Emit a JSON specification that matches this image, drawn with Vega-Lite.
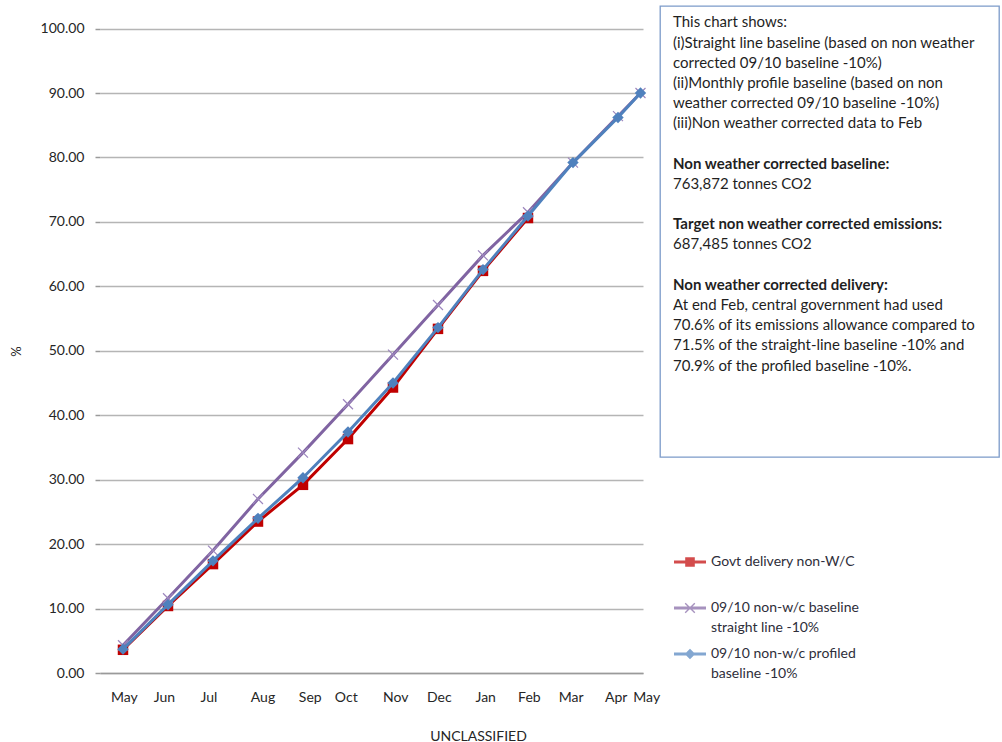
{
  "$schema": "https://vega.github.io/schema/vega-lite/v6.json",
  "background": "white",
  "padding": {"left": 10, "top": 5, "right": 0, "bottom": 0},
  "bounds": "flush",
  "spacing": 17,
  "config": {"font": "Lato", "view": {"stroke": null}, "style": {"guide-label": {"lineHeight": 20}}},
  "datasets": {
    "series": [
      {"t": 0, "month": "May", "series": "Govt delivery non-W/C", "value": 3.6},
      {"t": 1, "month": "Jun", "series": "Govt delivery non-W/C", "value": 10.4},
      {"t": 2, "month": "Jul", "series": "Govt delivery non-W/C", "value": 16.9},
      {"t": 3, "month": "Aug", "series": "Govt delivery non-W/C", "value": 23.5},
      {"t": 4, "month": "Sep", "series": "Govt delivery non-W/C", "value": 29.2},
      {"t": 5, "month": "Oct", "series": "Govt delivery non-W/C", "value": 36.3},
      {"t": 6, "month": "Nov", "series": "Govt delivery non-W/C", "value": 44.3},
      {"t": 7, "month": "Dec", "series": "Govt delivery non-W/C", "value": 53.4},
      {"t": 8, "month": "Jan", "series": "Govt delivery non-W/C", "value": 62.4},
      {"t": 9, "month": "Feb", "series": "Govt delivery non-W/C", "value": 70.6},
      {"t": 0, "month": "May", "series": "09/10 non-w/c baseline straight line -10%", "value": 4.3},
      {"t": 1, "month": "Jun", "series": "09/10 non-w/c baseline straight line -10%", "value": 11.6},
      {"t": 2, "month": "Jul", "series": "09/10 non-w/c baseline straight line -10%", "value": 19.0},
      {"t": 3, "month": "Aug", "series": "09/10 non-w/c baseline straight line -10%", "value": 27.0},
      {"t": 4, "month": "Sep", "series": "09/10 non-w/c baseline straight line -10%", "value": 34.2},
      {"t": 5, "month": "Oct", "series": "09/10 non-w/c baseline straight line -10%", "value": 41.7},
      {"t": 6, "month": "Nov", "series": "09/10 non-w/c baseline straight line -10%", "value": 49.4},
      {"t": 7, "month": "Dec", "series": "09/10 non-w/c baseline straight line -10%", "value": 57.1},
      {"t": 8, "month": "Jan", "series": "09/10 non-w/c baseline straight line -10%", "value": 64.8},
      {"t": 9, "month": "Feb", "series": "09/10 non-w/c baseline straight line -10%", "value": 71.5},
      {"t": 10, "month": "Mar", "series": "09/10 non-w/c baseline straight line -10%", "value": 79.2},
      {"t": 11, "month": "Apr", "series": "09/10 non-w/c baseline straight line -10%", "value": 86.4},
      {"t": 11.5, "month": "May", "series": "09/10 non-w/c baseline straight line -10%", "value": 90.0},
      {"t": 0, "month": "May", "series": "09/10 non-w/c profiled baseline -10%", "value": 3.7},
      {"t": 1, "month": "Jun", "series": "09/10 non-w/c profiled baseline -10%", "value": 10.6},
      {"t": 2, "month": "Jul", "series": "09/10 non-w/c profiled baseline -10%", "value": 17.4},
      {"t": 3, "month": "Aug", "series": "09/10 non-w/c profiled baseline -10%", "value": 24.0},
      {"t": 4, "month": "Sep", "series": "09/10 non-w/c profiled baseline -10%", "value": 30.3},
      {"t": 5, "month": "Oct", "series": "09/10 non-w/c profiled baseline -10%", "value": 37.4},
      {"t": 6, "month": "Nov", "series": "09/10 non-w/c profiled baseline -10%", "value": 45.0},
      {"t": 7, "month": "Dec", "series": "09/10 non-w/c profiled baseline -10%", "value": 53.6},
      {"t": 8, "month": "Jan", "series": "09/10 non-w/c profiled baseline -10%", "value": 62.6},
      {"t": 9, "month": "Feb", "series": "09/10 non-w/c profiled baseline -10%", "value": 70.9},
      {"t": 10, "month": "Mar", "series": "09/10 non-w/c profiled baseline -10%", "value": 79.2},
      {"t": 11, "month": "Apr", "series": "09/10 non-w/c profiled baseline -10%", "value": 86.2},
      {"t": 11.5, "month": "May", "series": "09/10 non-w/c profiled baseline -10%", "value": 90.0}
    ],
    "notes": [
      {"row": 0, "bold": false, "text": "This chart shows:"},
      {"row": 1, "bold": false, "text": "(i)Straight line baseline (based on non weather"},
      {"row": 2, "bold": false, "text": "corrected 09/10 baseline -10%)"},
      {"row": 3, "bold": false, "text": "(ii)Monthly profile baseline (based on non"},
      {"row": 4, "bold": false, "text": "weather corrected 09/10 baseline -10%)"},
      {"row": 5, "bold": false, "text": "(iii)Non weather corrected data to Feb"},
      {"row": 7, "bold": true, "text": "Non weather corrected baseline:"},
      {"row": 8, "bold": false, "text": "763,872 tonnes CO2"},
      {"row": 10, "bold": true, "text": "Target non weather corrected emissions:"},
      {"row": 11, "bold": false, "text": "687,485 tonnes CO2"},
      {"row": 13, "bold": true, "text": "Non weather corrected delivery:"},
      {"row": 14, "bold": false, "text": "At end Feb, central government had used"},
      {"row": 15, "bold": false, "text": "70.6% of its emissions allowance compared to"},
      {"row": 16, "bold": false, "text": "71.5% of the straight-line  baseline -10% and"},
      {"row": 17, "bold": false, "text": "70.9%  of the profiled baseline -10%."}
    ]
  },
  "hconcat": [
    {
      "width": 543,
      "height": 667,
      "data": {"name": "series"},
      "encoding": {
        "x": {
          "field": "t",
          "type": "quantitative",
          "scale": {"domain": [-0.511, 11.556], "nice": false, "zero": false},
          "axis": {
            "values": [0.02, 0.91, 1.9, 3.1, 4.15, 4.95, 6.05, 7.02, 8.05, 9.02, 9.95, 10.95, 11.33],
            "labelExpr": "['May','Jun','Jul','Aug','Sep','Oct','Nov','Dec','Jan','Feb','Mar','Apr','May'][datum.value > 11.2 ? 12 : floor(datum.value + 0.2)]",
            "labelAlign": {"condition": {"test": "datum.value > 11.2", "value": "left"}, "value": "center"},
            "labelFlush": false,
            "labelOverlap": false,
            "labelFont": "Lato",
            "labelFontSize": 14,
            "labelColor": "#262626",
            "labelPadding": 17,
            "ticks": false,
            "grid": false,
            "domainColor": "#9a9a9a",
            "domainWidth": 1.5,
            "title": "UNCLASSIFIED",
            "titleFont": "Lato",
            "titleFontSize": 14,
            "titleFontWeight": "normal",
            "titleColor": "#262626",
            "titleX": 378,
            "titleY": 63,
            "titleBaseline": "middle"
          }
        },
        "y": {
          "field": "value",
          "type": "quantitative",
          "scale": {"domain": [0, 103.5], "nice": false, "zero": true},
          "axis": {
            "values": [0, 10, 20, 30, 40, 50, 60, 70, 80, 90, 100],
            "format": ".2f",
            "domain": false,
            "grid": true,
            "gridColor": "#b5b5b5",
            "gridWidth": 1.5,
            "tickColor": "#9a9a9a",
            "tickWidth": 1.5,
            "tickSize": 5,
            "labelPadding": 11,
            "labelFont": "Lato",
            "labelFontSize": 14,
            "labelColor": "#262626",
            "title": "%",
            "titleFont": "Lato",
            "titleFontSize": 13,
            "titleFontWeight": "normal",
            "titleColor": "#262626",
            "titleX": -84,
            "titleY": 345,
            "titleAngle": -90,
            "titleBaseline": "middle",
            "titleAlign": "center"
          }
        }
      },
      "layer": [
        {
          "transform": [{"filter": "datum.t < -5"}],
          "mark": {"type": "point", "filled": true, "size": 1024},
          "encoding": {
            "color": {
              "field": "series",
              "type": "nominal",
              "scale": {
                "domain": ["Govt delivery non-W/C", "09/10 non-w/c baseline straight line -10%", "09/10 non-w/c profiled baseline -10%"],
                "range": ["#c00000", "#8064a2", "#4f81bd"]
              },
              "legend": {
                "orient": "none", "legendX": 574, "legendY": 540, "title": null,
                "symbolSize": 1024, "symbolStrokeWidth": 0,
                "labelFont": "Lato", "labelFontSize": 14, "labelColor": "#2e2e3a",
                "labelOffset": 5, "rowPadding": 3, "labelLimit": 300,
                "labelExpr": "datum.label == '09/10 non-w/c baseline straight line -10%' ? ['09/10 non-w/c baseline', 'straight line -10%'] : datum.label == '09/10 non-w/c profiled baseline -10%' ? ['09/10 non-w/c profiled', 'baseline -10%'] : [datum.label, '']"
              }
            },
            "shape": {
              "field": "series",
              "type": "nominal",
              "scale": {
                "domain": ["Govt delivery non-W/C", "09/10 non-w/c baseline straight line -10%", "09/10 non-w/c profiled baseline -10%"],
                "range": [
                  "M-1,-0.094H1V0.094H-1Z M-0.3,-0.3H0.3V0.3H-0.3Z",
                  "M-1,-0.094H1V0.094H-1Z M-0.33,-0.27L-0.27,-0.33L0.33,0.27L0.27,0.33Z M0.27,-0.33L0.33,-0.27L-0.27,0.33L-0.33,0.27Z",
                  "M-1,-0.094H1V0.094H-1Z M0,-0.33L0.33,0L0,0.33L-0.33,0Z"
                ]
              },
              "legend": {
                "orient": "none", "legendX": 574, "legendY": 540, "title": null,
                "symbolSize": 1024, "symbolStrokeWidth": 0,
                "labelFont": "Lato", "labelFontSize": 14, "labelColor": "#2e2e3a",
                "labelOffset": 5, "rowPadding": 3, "labelLimit": 300,
                "labelExpr": "datum.label == '09/10 non-w/c baseline straight line -10%' ? ['09/10 non-w/c baseline', 'straight line -10%'] : datum.label == '09/10 non-w/c profiled baseline -10%' ? ['09/10 non-w/c profiled', 'baseline -10%'] : [datum.label, '']"
              }
            }
          }
        },
        {
          "data": {"values": [{}]},
          "mark": {"type": "rule", "color": "#9a9a9a", "strokeWidth": 1.5},
          "encoding": {
            "x": {"datum": -0.511, "type": "quantitative"},
            "y": {"datum": 0, "type": "quantitative"},
            "y2": {"datum": 100}
          }
        },
        {
          "transform": [{"filter": "datum.series == 'Govt delivery non-W/C'"}],
          "mark": {"type": "line", "color": "#c00000", "strokeWidth": 3}
        },
        {
          "transform": [{"filter": "datum.series == 'Govt delivery non-W/C'"}],
          "mark": {"type": "point", "shape": "square", "filled": true, "size": 110, "color": "#c00000", "opacity": 1}
        },
        {
          "transform": [{"filter": "datum.series == '09/10 non-w/c baseline straight line -10%'"}],
          "mark": {"type": "line", "color": "#8064a2", "strokeWidth": 3}
        },
        {
          "transform": [{"filter": "datum.series == '09/10 non-w/c baseline straight line -10%'"}],
          "mark": {"type": "point", "shape": "M-1,-1L1,1M1,-1L-1,1", "filled": false, "size": 100, "color": "#9c86bd", "strokeWidth": 1.2, "opacity": 1}
        },
        {
          "transform": [{"filter": "datum.series == '09/10 non-w/c profiled baseline -10%'"}],
          "mark": {"type": "line", "color": "#4f81bd", "strokeWidth": 3}
        },
        {
          "transform": [{"filter": "datum.series == '09/10 non-w/c profiled baseline -10%'"}],
          "mark": {"type": "point", "shape": "diamond", "filled": true, "size": 130, "color": "#4f81bd", "opacity": 1}
        }
      ]
    },
    {
      "width": 339,
      "height": 451,
      "view": {"stroke": "#7c9bc9", "strokeWidth": 1.3},
      "data": {"name": "notes"},
      "encoding": {
        "x": {"datum": 0, "type": "quantitative", "scale": {"domain": [0, 1]}, "axis": null},
        "y": {"field": "row", "type": "quantitative", "scale": {"domain": [-0.807, 21.52], "reverse": true, "nice": false, "zero": false}, "axis": null},
        "text": {"field": "text"}
      },
      "layer": [
        {
          "transform": [{"filter": "!datum.bold"}],
          "mark": {"type": "text", "align": "left", "baseline": "middle", "dx": 13, "font": "Lato", "fontSize": 15, "color": "#1f1f1f"}
        },
        {
          "transform": [{"filter": "datum.bold"}],
          "mark": {"type": "text", "align": "left", "baseline": "middle", "dx": 13, "font": "Lato", "fontSize": 15, "fontWeight": "bold", "color": "#1f1f1f"}
        }
      ]
    }
  ]
}
